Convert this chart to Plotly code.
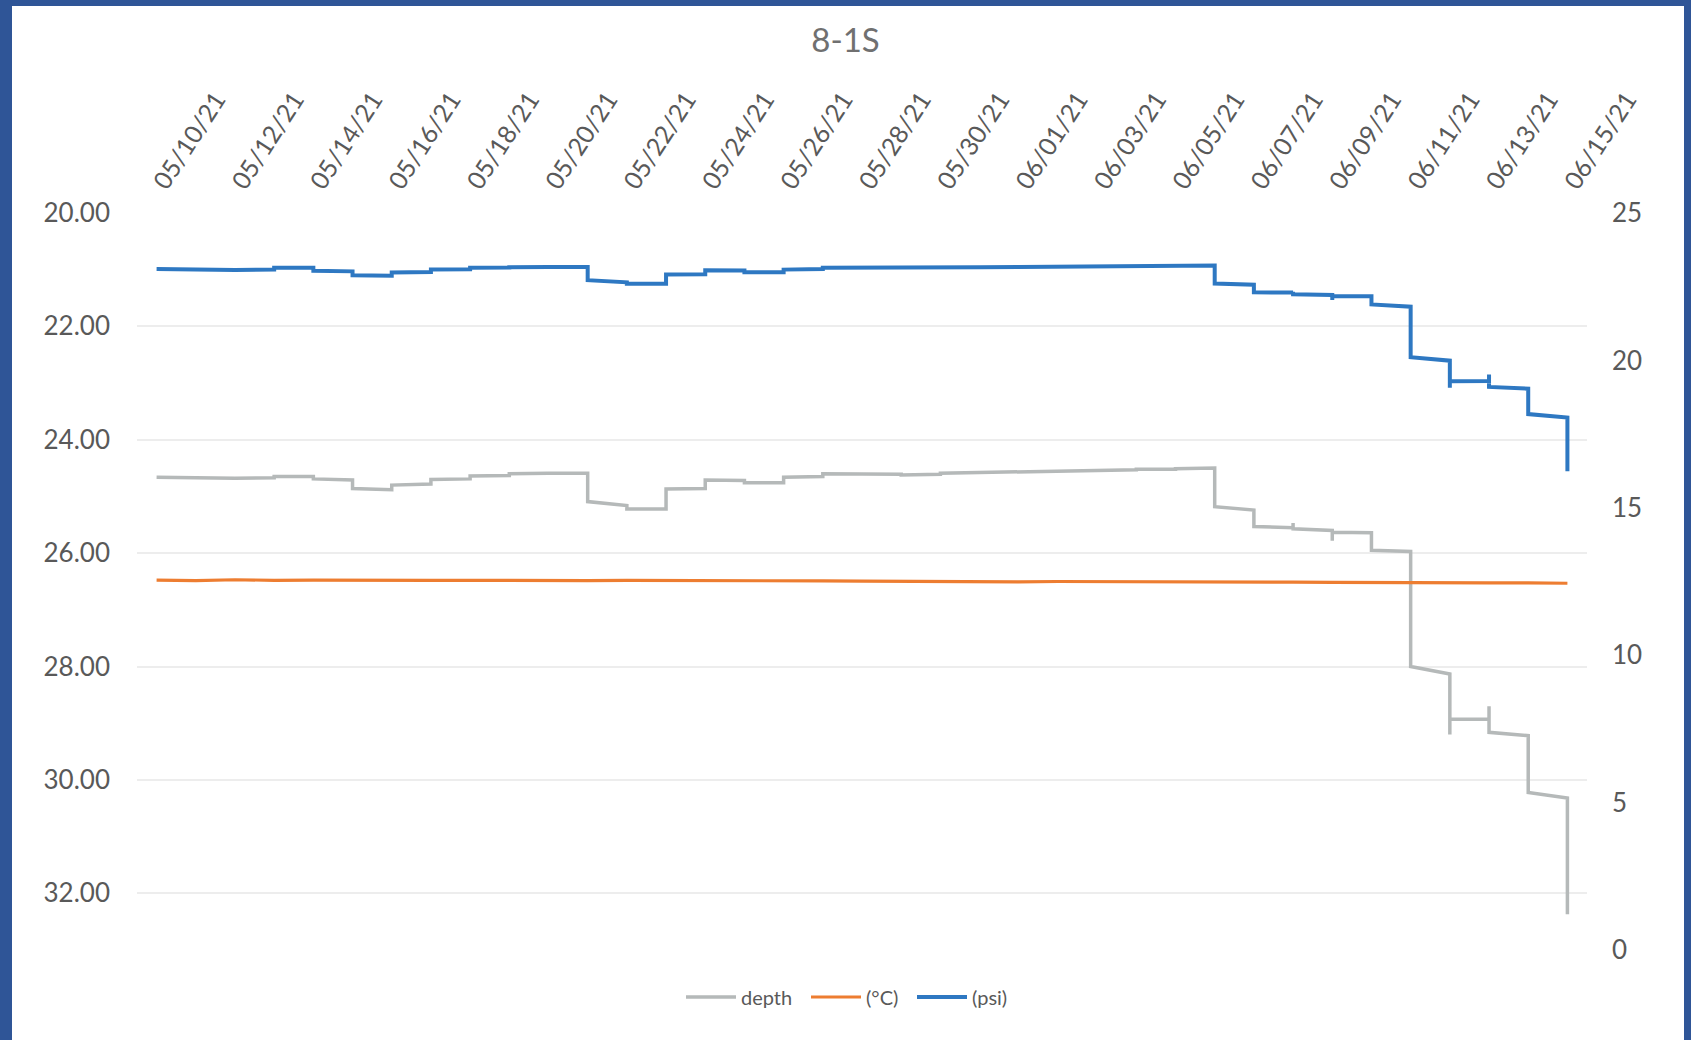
import pandas as pd
import plotly.graph_objects as go

# ---------------- data ----------------
dates = pd.date_range("2021-05-10", "2021-06-15", freq="D")

# values are plotted per day: first reading of the day, optional spike, last reading
depth_open = [24.66, 24.67, 24.68, 24.67, 24.65, 24.71, 24.88, 24.78, 24.69, 24.63,
              24.59, 24.59, 25.16, 25.22, 24.86, 24.72, 24.76, 24.65, 24.60, 24.61,
              24.61, 24.58, 24.57, 24.56, 24.55, 24.53, 24.52, 24.50, 25.24, 25.55,
              25.60, 25.64, 25.97, 28.13, 28.93, 29.22, 30.32]
depth_close = [24.66, 24.68, 24.68, 24.65, 24.69, 24.86, 24.80, 24.70, 24.64, 24.60,
               24.59, 25.09, 25.22, 24.87, 24.71, 24.76, 24.66, 24.60, 24.60, 24.62,
               24.59, 24.58, 24.56, 24.55, 24.54, 24.52, 24.51, 25.18, 25.53, 25.57,
               25.63, 25.95, 28.00, 28.93, 29.16, 30.22, 32.37]
depth_spike = {29: 25.47, 30: 25.78, 33: 29.20, 34: 28.70}

psi_open = [23.10, 23.08, 23.07, 23.08, 23.14, 23.02, 22.87, 23.00, 23.09, 23.15,
            23.17, 23.17, 22.65, 22.60, 22.92, 23.05, 22.99, 23.10, 23.14, 23.14,
            23.13, 23.16, 23.17, 23.18, 23.19, 23.20, 23.21, 23.22, 22.57, 22.30,
            22.22, 22.18, 21.82, 19.99, 19.30, 19.04, 18.06]
psi_close = [23.10, 23.07, 23.07, 23.14, 23.04, 22.89, 22.98, 23.08, 23.14, 23.16,
             23.17, 22.72, 22.60, 22.91, 23.06, 22.99, 23.08, 23.14, 23.15, 23.13,
             23.15, 23.16, 23.17, 23.18, 23.19, 23.20, 23.21, 22.61, 22.31, 22.24,
             22.18, 21.90, 20.11, 19.29, 19.10, 18.18, 16.24]
psi_spike = {29: 22.33, 30: 22.05, 33: 19.07, 34: 19.52}

temp_c = [12.55, 12.53, 12.56, 12.54, 12.55, 12.54, 12.53, 12.54, 12.54, 12.53,
          12.54, 12.53, 12.54, 12.54, 12.52, 12.53, 12.52, 12.52, 12.51, 12.50,
          12.51, 12.50, 12.49, 12.50, 12.50, 12.49, 12.49, 12.48, 12.50, 12.48,
          12.47, 12.46, 12.46, 12.45, 12.45, 12.45, 12.44]

left_ticks = [20, 22, 24, 26, 28, 30, 32]
right_ticks = [0, 5, 10, 15, 20, 25]
title_text = "8-1S"
names = ["depth", "(°C)", "(psi)"]


def day_path(opens, closes, spikes):
    xs, ys = [], []
    for i, d in enumerate(dates):
        xs.append(d); ys.append(opens[i])
        if i in spikes:
            xs.append(d); ys.append(spikes[i])
        xs.append(d); ys.append(closes[i])
    return xs, ys


dx, dy = day_path(depth_open, depth_close, depth_spike)
px_, py_ = day_path(psi_open, psi_close, psi_spike)

# ---------------- figure ----------------
W, H = 1691, 1040
ML, MR, MT, MB = 137, 104, 213, 90
PW, PH = W - ML - MR, H - MT - MB

FONT = "Lato, 'Open Sans', sans-serif"
TXT = "#595959"


def px2paper_x(p):
    return (p - ML) / PW


def px2paper_y(p):
    return (H - MB - p) / PH


fig = go.Figure()
fig.add_trace(go.Scatter(x=dx, y=dy, name=names[0], mode="lines", yaxis="y",
                         legend="legend",
                         line=dict(color="#B5B9B9", width=3.5)))
fig.add_trace(go.Scatter(x=list(dates), y=temp_c, name=names[1], mode="lines", yaxis="y2",
                         legend="legend2",
                         line=dict(color="#ED7D31", width=3.2)))
fig.add_trace(go.Scatter(x=px_, y=py_, name=names[2], mode="lines", yaxis="y2",
                         legend="legend3",
                         line=dict(color="#2E78C2", width=4)))

leg_common = dict(orientation="h", xanchor="left", y=px2paper_y(997), yanchor="middle",
                  font=dict(size=20, color=TXT, family=FONT), itemwidth=50,
                  bgcolor="rgba(0,0,0,0)", borderwidth=0)

fig.update_layout(
    width=W, height=H,
    margin=dict(l=ML, r=MR, t=MT, b=MB, autoexpand=False),
    paper_bgcolor="#2F5597",
    plot_bgcolor="rgba(0,0,0,0)",
    font=dict(family=FONT, color=TXT),
    title=dict(text=title_text, x=0.5, xanchor="center", y=1 - 40 / H, yanchor="middle",
               font=dict(size=33, color="#707070", family=FONT)),
    showlegend=True,
    legend=dict(x=px2paper_x(681), **leg_common),
    legend2=dict(x=px2paper_x(806), **leg_common),
    legend3=dict(x=px2paper_x(912), **leg_common),
    xaxis=dict(type="date", side="top",
               range=[dates[0] - pd.Timedelta(hours=12), dates[-1] + pd.Timedelta(hours=12)],
               tickvals=list(dates[::2]), tickformat="%m/%d/%y", tickangle=-57,
               tickfont=dict(size=25, color=TXT), showgrid=False, showline=False,
               zeroline=False, ticks="", ticklabelstandoff=10, automargin=False),
    yaxis=dict(range=[33, 20], tickvals=left_ticks, tickformat=".2f",
               tickfont=dict(size=26, color=TXT), showgrid=True, gridcolor="#EDEDED",
               gridwidth=1.5, zeroline=False, showline=False, ticks="",
               ticklabelstandoff=26, automargin=False),
    yaxis2=dict(range=[0, 25], tickvals=right_ticks, overlaying="y", side="right",
                tickfont=dict(size=26, color=TXT), showgrid=False, zeroline=False,
                showline=False, ticks="", ticklabelstandoff=24, automargin=False),
    shapes=[dict(type="rect", xref="paper", yref="paper", layer="below",
                 x0=px2paper_x(12), x1=px2paper_x(1684), y0=px2paper_y(1045), y1=px2paper_y(6),
                 fillcolor="white", line=dict(width=0))],
)

fig.write_html("out.html", config={"displayModeBar": False},
               post_script="document.body.style.margin='0px';document.body.style.overflow='hidden';")
